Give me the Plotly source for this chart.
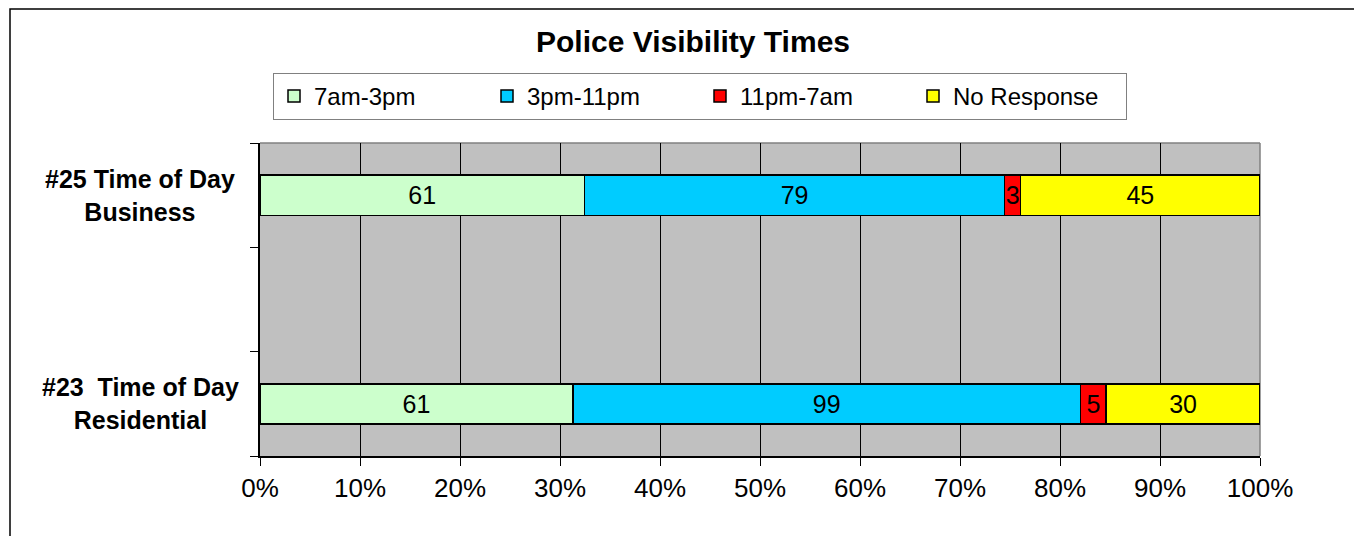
# police visibility stacked 100% bar
import plotly.graph_objects as go

# data
categories = ["#25 Time of Day<br>Business", " ", "#23  Time of Day<br>Residential"]
series_names = ["7am-3pm", "3pm-11pm", "11pm-7am", "No Response"]
morning = [61, None, 61]
evening = [79, None, 99]
night = [3, None, 5]
no_response = [45, None, 30]
series_values = [morning, evening, night, no_response]
colors = ["#CCFFCC", "#00CCFF", "#FF0000", "#FFFF00"]
x_ticks = [0, 10, 20, 30, 40, 50, 60, 70, 80, 90, 100]
x_tick_labels = ["0%", "10%", "20%", "30%", "40%", "50%", "60%", "70%", "80%", "90%", "100%"]

FONT = "Arial, Liberation Sans, sans-serif"

# page body has an 8px margin, so the figure is 8px smaller than the window
W, H = 1354, 528

fig = go.Figure()

for name, vals, col in zip(series_names, series_values, colors):
    fig.add_trace(go.Bar(
        y=categories, x=vals, name=name, orientation='h',
        marker=dict(color=col, line=dict(color='black', width=1.5)),
        text=vals, texttemplate='%{text}',
        textposition='inside', insidetextanchor='middle',
        constraintext='none',
        textfont=dict(family=FONT, size=25, color='black'),
        hoverinfo='x+name'
    ))

# y labels as centered text
annots = []
for c in categories:
    if c.strip():
        annots.append(dict(
            x=-0.12, xref='paper', y=c, yref='y',
            text='<b>' + c + '</b>', showarrow=False,
            xanchor='center', yanchor='middle', align='center',
            font=dict(family=FONT, size=25, color='black')
        ))

fig.update_layout(
    width=W, height=H,
    margin=dict(l=252, r=102, t=135, b=80),
    paper_bgcolor='white',
    plot_bgcolor='#C0C0C0',
    barmode='stack',
    barnorm='percent',
    bargap=0.615,
    title=dict(text='<b>Police Visibility Times</b>', x=0.433, xref='paper',
               y=1 - 33 / H, yanchor='middle',
               font=dict(family=FONT, size=30, color='black')),
    legend=dict(orientation='h', x=0.013, xanchor='left', y=1.2236, yanchor='top',
                bgcolor='white', bordercolor='#808080', borderwidth=1,
                font=dict(family=FONT, size=24, color='black'),
                entrywidth=168, entrywidthmode='pixels', traceorder='normal'),
    xaxis=dict(range=[0, 100], tickvals=x_ticks, ticktext=x_tick_labels,
               showgrid=True, gridcolor='black', gridwidth=1,
               zeroline=False, showline=True, linecolor='black', linewidth=1.5,
               ticks='outside', ticklen=8, tickcolor='black',
               tickfont=dict(family=FONT, size=26, color='black')),
    yaxis=dict(type='category', categoryorder='array',
               categoryarray=categories[::-1], range=[-0.5, 2.5],
               showgrid=False, zeroline=False, showline=True,
               linecolor='black', linewidth=1.5,
               ticks='outside', ticklen=8, tickcolor='black', tickson='boundaries',
               showticklabels=False),
    annotations=annots,
    shapes=[
        dict(type='line', xref='paper', yref='paper', x0=0, x1=1, y0=1, y1=1,
             line=dict(color='#808080', width=1.5), layer='between'),
        dict(type='line', xref='paper', yref='paper', x0=1, x1=1, y0=0, y1=1,
             line=dict(color='#808080', width=1.5), layer='between'),
        dict(type='rect', xref='paper', yref='paper', x0=-0.25, x1=1.3, y0=-0.6, y1=1.428,
             line=dict(color='black', width=1.5), fillcolor='rgba(0,0,0,0)', layer='above'),
    ],
)

fig.write_html("out.html")
